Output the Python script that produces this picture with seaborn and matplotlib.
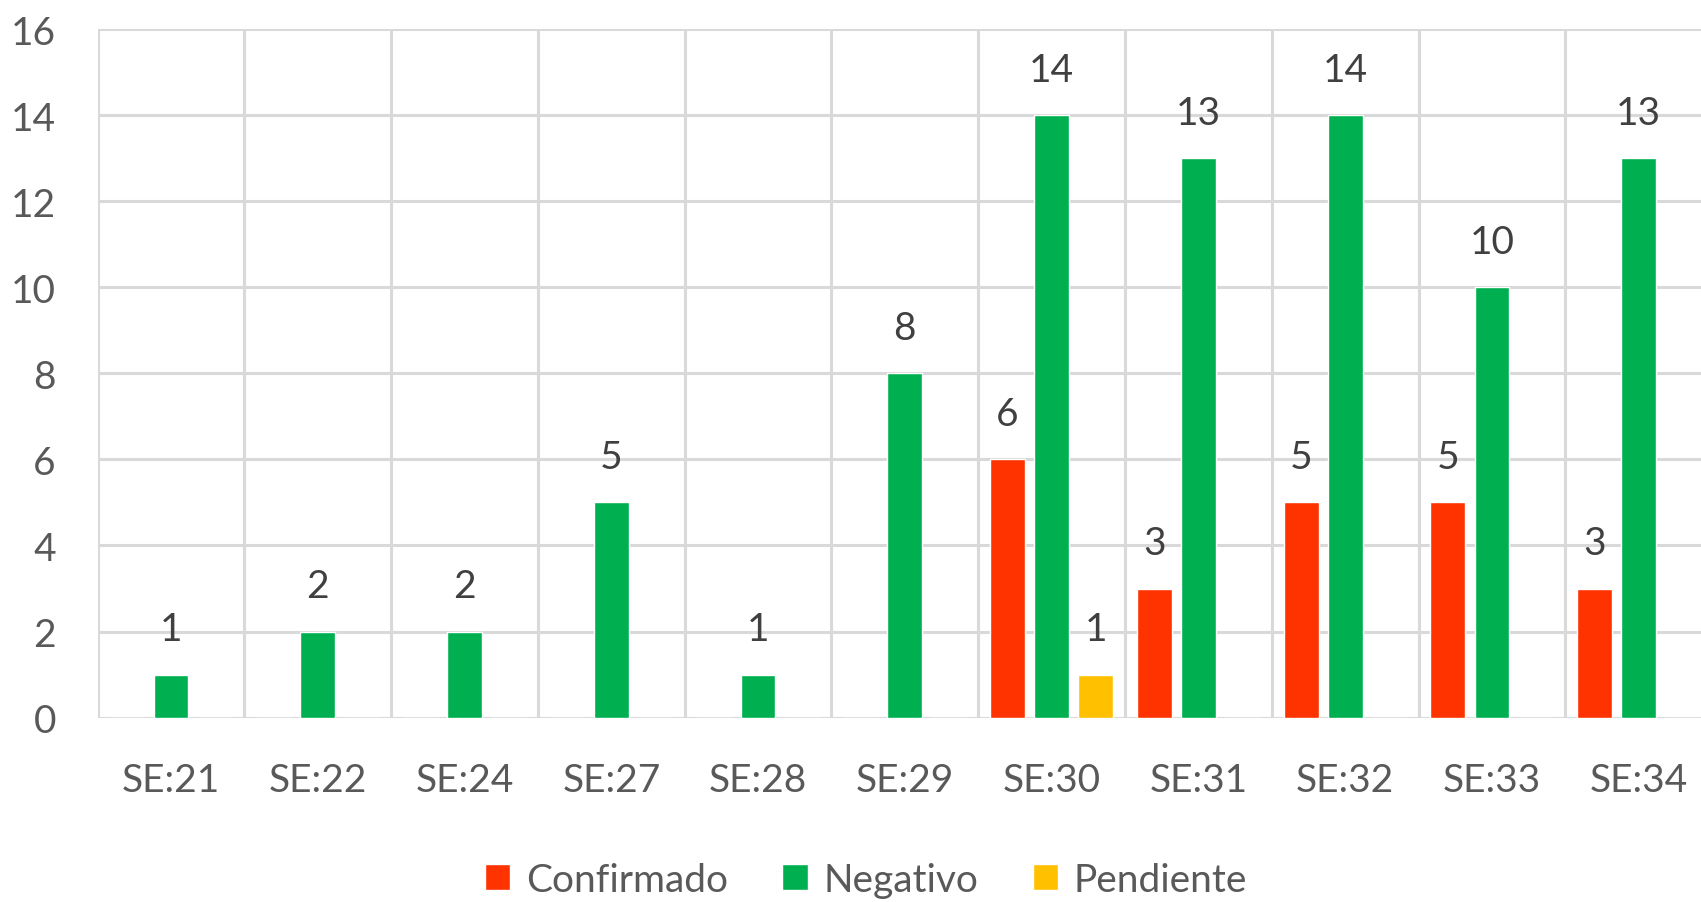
import pandas as pd
import matplotlib.pyplot as plt
import seaborn as sns

# Datos
semanas = ["SE:21", "SE:22", "SE:24", "SE:27", "SE:28", "SE:29",
           "SE:30", "SE:31", "SE:32", "SE:33", "SE:34"]
confirmado = [0, 0, 0, 0, 0, 0, 6, 3, 5, 5, 3]
negativo = [1, 2, 2, 5, 1, 8, 14, 13, 14, 10, 13]
pendiente = [0, 0, 0, 0, 0, 0, 1, 0, 0, 0, 0]

series = ["Confirmado", "Negativo", "Pendiente"]
colores = ["#FF3300", "#00B050", "#FFC000"]

df = pd.DataFrame({
    "Semana": semanas * 3,
    "Serie": [s for s in series for _ in semanas],
    "Casos": confirmado + negativo + pendiente,
})

sns.set_theme(style="white")
plt.rcParams["font.family"] = ["Lato", "DejaVu Sans"]

fig = plt.figure(figsize=(17.01, 9.03), dpi=100)
ax = fig.add_axes([0.0574, 0.2043, 0.9491, 0.7620])

sns.barplot(data=df, x="Semana", y="Casos", hue="Serie", order=semanas,
            hue_order=series, palette=colores, width=0.9, gap=0.21,
            saturation=1, ax=ax, legend=True)

# Etiquetas de datos (sin ceros)
for cont in ax.containers:
    etiquetas = [f"{v:.0f}" if v > 0 else "" for v in cont.datavalues]
    ax.bar_label(cont, labels=etiquetas, padding=20, fontsize=28,
                 color="#404040")

gris = "#D9D9D9"
ax.set_ylim(0, 16)
ax.set_yticks(range(0, 17, 2))
ax.set_xlim(-0.5, len(semanas) - 0.5)
ax.set_xticks([i + 0.5 for i in range(-1, len(semanas))], minor=True)
ax.grid(axis="y", which="major", color=gris, linewidth=2.2)
ax.grid(axis="x", which="minor", color=gris, linewidth=2.2)
ax.set_axisbelow(True)
for lado in ["top", "right", "left", "bottom"]:
    ax.spines[lado].set_visible(False)

ax.tick_params(axis="both", which="both", length=0)
ax.tick_params(axis="y", labelsize=28, labelcolor="#595959", pad=30)
ax.tick_params(axis="x", labelsize=28, labelcolor="#595959", pad=32)
ax.set_xlabel("")
ax.set_ylabel("")

ax.legend(loc="center", bbox_to_anchor=(866 / 1701, 1 - 881 / 903),
          bbox_transform=fig.transFigure, ncol=3, frameon=False,
          fontsize=28, labelcolor="#595959", handlelength=0.65,
          handleheight=0.65, handletextpad=0.4, columnspacing=1.4,
          title=None)

fig.savefig("out.png", dpi=100)
